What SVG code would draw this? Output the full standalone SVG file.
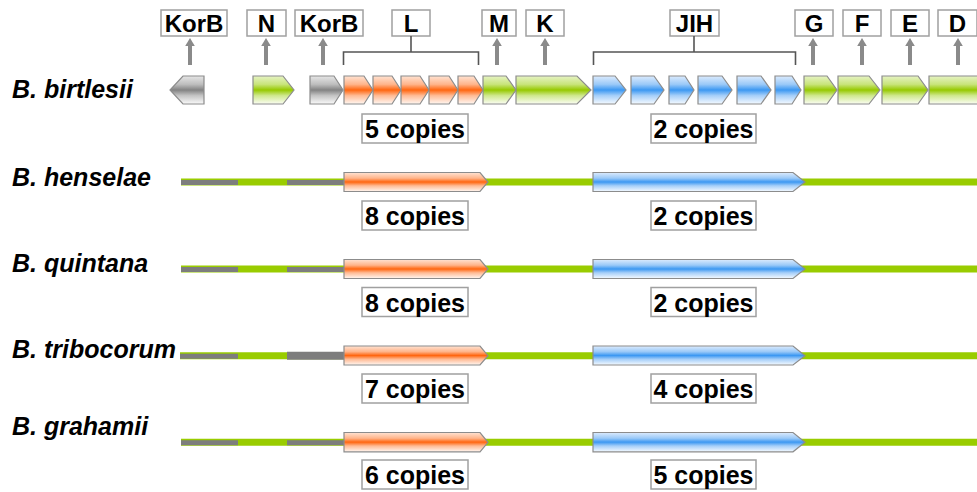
<svg xmlns="http://www.w3.org/2000/svg" xmlns:xlink="http://www.w3.org/1999/xlink" width="977" height="492" viewBox="0 0 977 492">
  <style>
    .sp { font-family: "Liberation Sans", Arial, sans-serif; font-size: 25px; font-weight: bold; font-style: italic; fill: #000; }
    .lbl { font-family: "Liberation Sans", Arial, sans-serif; font-size: 24px; font-weight: bold; fill: #000; text-anchor: middle; }
    .cp { font-family: "Liberation Sans", Arial, sans-serif; font-size: 25px; font-weight: bold; fill: #000; text-anchor: middle; }
    .box { fill: #fff; stroke: #a0a0a0; stroke-width: 1.5; }
    .gene { stroke: #8c8c8c; stroke-width: 1.2; stroke-linejoin: miter; }
    .green { fill: url(#gGreen); }
    .orange { fill: url(#gOrange); }
    .blue { fill: url(#gBlue); }
    .gray { fill: url(#gGray); }
    .chrom { stroke: #99cc00; stroke-width: 7; fill: none; }
    .seg { stroke: #7d7d7d; stroke-width: 5; fill: none; }
    .bracket { stroke: #555; stroke-width: 1.6; fill: none; }
    .shaft { stroke: #8a8a8a; stroke-width: 4; }
    .head { fill: #8a8a8a; }
  </style>
  <defs>
    <!-- vertical shading: pale top, saturated centre band, near-white bottom -->
    <linearGradient id="gGreen" x1="0" y1="0" x2="0" y2="1">
      <stop offset="0" stop-color="#e6f3c4"/>
      <stop offset="0.3" stop-color="#c8e47a"/>
      <stop offset="0.5" stop-color="#96c900"/>
      <stop offset="0.7" stop-color="#cfe88e"/>
      <stop offset="1" stop-color="#fbfdf4"/>
    </linearGradient>
    <linearGradient id="gOrange" x1="0" y1="0" x2="0" y2="1">
      <stop offset="0" stop-color="#ffe3d3"/>
      <stop offset="0.3" stop-color="#ffb48a"/>
      <stop offset="0.5" stop-color="#ff6610"/>
      <stop offset="0.7" stop-color="#ffbb95"/>
      <stop offset="1" stop-color="#fff7f2"/>
    </linearGradient>
    <linearGradient id="gBlue" x1="0" y1="0" x2="0" y2="1">
      <stop offset="0" stop-color="#dcebfd"/>
      <stop offset="0.3" stop-color="#9ac9f8"/>
      <stop offset="0.5" stop-color="#3c98f2"/>
      <stop offset="0.7" stop-color="#a6cff9"/>
      <stop offset="1" stop-color="#f5faff"/>
    </linearGradient>
    <linearGradient id="gGray" x1="0" y1="0" x2="0" y2="1">
      <stop offset="0" stop-color="#e6e6e6"/>
      <stop offset="0.3" stop-color="#bdbdbd"/>
      <stop offset="0.5" stop-color="#838383"/>
      <stop offset="0.7" stop-color="#c4c4c4"/>
      <stop offset="1" stop-color="#fafafa"/>
    </linearGradient>
    <g id="up">
      <line class="shaft" x1="0" y1="65" x2="0" y2="44"/>
      <path class="head" d="M0,38 L4.8,46 L-4.8,46 Z"/>
    </g>
  </defs>

  <rect width="977" height="492" fill="#fff"/>

  <!-- species names -->
  <g id="species">
    <text class="sp" x="12" y="98">B. birtlesii</text>
    <text class="sp" x="12" y="186">B. henselae</text>
    <text class="sp" x="12" y="272">B. quintana</text>
    <text class="sp" x="12" y="358">B. tribocorum</text>
    <text class="sp" x="12" y="435">B. grahamii</text>
  </g>

  <!-- gene name boxes -->
  <g id="label-KorB1"><rect class="box" x="161" y="10" width="66" height="26"/><text class="lbl" x="194" y="32">KorB</text></g>
  <g id="label-N"><rect class="box" x="247" y="10" width="39" height="26"/><text class="lbl" x="266.5" y="32">N</text></g>
  <g id="label-KorB2"><rect class="box" x="295" y="10" width="68" height="26"/><text class="lbl" x="329" y="32">KorB</text></g>
  <g id="label-L"><rect class="box" x="392" y="10" width="38" height="26"/><text class="lbl" x="411" y="32">L</text></g>
  <g id="label-M"><rect class="box" x="482" y="10" width="34" height="26"/><text class="lbl" x="499" y="32">M</text></g>
  <g id="label-K"><rect class="box" x="526" y="10" width="38" height="26"/><text class="lbl" x="545" y="32">K</text></g>
  <g id="label-JIH"><rect class="box" x="670" y="10" width="49" height="26"/><text class="lbl" x="694.5" y="32">JIH</text></g>
  <g id="label-G"><rect class="box" x="795" y="10" width="38" height="26"/><text class="lbl" x="814" y="32">G</text></g>
  <g id="label-F"><rect class="box" x="843" y="10" width="38" height="26"/><text class="lbl" x="862" y="32">F</text></g>
  <g id="label-E"><rect class="box" x="891" y="10" width="38" height="26"/><text class="lbl" x="910" y="32">E</text></g>
  <g id="label-D"><rect class="box" x="938" y="10" width="39" height="26"/><text class="lbl" x="957.5" y="32">D</text></g>

  <!-- connectors: pointer arrows and brackets -->
  <g id="connectors">
    <use xlink:href="#up" href="#up" x="190" y="0"/>
    <use xlink:href="#up" href="#up" x="266" y="0"/>
    <use xlink:href="#up" href="#up" x="323" y="0"/>
    <use xlink:href="#up" href="#up" x="497" y="0"/>
    <use xlink:href="#up" href="#up" x="545" y="0"/>
    <use xlink:href="#up" href="#up" x="813" y="0"/>
    <use xlink:href="#up" href="#up" x="862" y="0"/>
    <use xlink:href="#up" href="#up" x="910" y="0"/>
    <use xlink:href="#up" href="#up" x="958" y="0"/>
    <path class="bracket" d="M343.5,65 V52 H478.5 V65 M411,52 V36"/>
    <path class="bracket" d="M593.5,65 V52 H795.5 V65 M694,52 V36"/>
  </g>

  <!-- B. birtlesii gene cluster -->
  <g id="row-birtlesii">
    <path class="gene gray" d="M204,76 H183 L170,90 L183,104 H204 Z"/>
    <path class="gene green" d="M253,76 H283 L294,90 L283,104 H253 Z"/>
    <path class="gene gray" d="M310,76 H334 L343,90 L334,104 H310 Z"/>
    <path class="gene orange" d="M344,76 H364 L373,90 L364,104 H344 Z"/>
    <path class="gene orange" d="M373,76 H392 L401,90 L392,104 H373 Z"/>
    <path class="gene orange" d="M401,76 H420 L429,90 L420,104 H401 Z"/>
    <path class="gene orange" d="M429,76 H449 L458,90 L449,104 H429 Z"/>
    <path class="gene orange" d="M458,76 H474 L483,90 L474,104 H458 Z"/>
    <path class="gene green" d="M483,76 H506 L516,90 L506,104 H483 Z"/>
    <path class="gene green" d="M516,76 H577 L591,90 L577,104 H516 Z"/>
    <path class="gene blue" d="M593,76 H615 L626,90 L615,104 H593 Z"/>
    <path class="gene blue" d="M631,76 H654 L664,90 L654,104 H631 Z"/>
    <path class="gene blue" d="M669,76 H685 L694,90 L685,104 H669 Z"/>
    <path class="gene blue" d="M698,76 H722 L732,90 L722,104 H698 Z"/>
    <path class="gene blue" d="M737,76 H761 L771,90 L761,104 H737 Z"/>
    <path class="gene blue" d="M775,76 H792 L801,90 L792,104 H775 Z"/>
    <path class="gene green" d="M804,76 H827 L837,90 L827,104 H804 Z"/>
    <path class="gene green" d="M838,76 H869 L880,90 L869,104 H838 Z"/>
    <path class="gene green" d="M882,76 H918 L928,90 L918,104 H882 Z"/>
    <path class="gene green" d="M929,76 H985 L995,90 L985,104 H929 Z"/>
    <rect class="box" x="362" y="114" width="106" height="29"/><text class="cp" x="415" y="138">5 copies</text>
    <rect class="box" x="651" y="114" width="105" height="29"/><text class="cp" x="703.5" y="138">2 copies</text>
  </g>

  <!-- B. henselae -->
  <g id="row-henselae">
    <line class="chrom" x1="181" y1="182" x2="977" y2="182"/>
    <line class="seg" x1="181" y1="182.5" x2="238" y2="182.5"/>
    <line class="seg" x1="287" y1="182.5" x2="344" y2="182.5"/>
    <path class="gene orange" d="M344,172.5 H480 L488,182 L480,191.5 H344 Z"/>
    <path class="gene blue" d="M593,172.5 H793 L805,182 L793,191.5 H593 Z"/>
    <rect class="box" x="362" y="201" width="106" height="29"/><text class="cp" x="415" y="225">8 copies</text>
    <rect class="box" x="651" y="201" width="105" height="29"/><text class="cp" x="703.5" y="225">2 copies</text>
  </g>

  <!-- B. quintana -->
  <g id="row-quintana">
    <line class="chrom" x1="181" y1="269" x2="977" y2="269"/>
    <line class="seg" x1="181" y1="269.5" x2="238" y2="269.5"/>
    <line class="seg" x1="287" y1="269.5" x2="344" y2="269.5"/>
    <path class="gene orange" d="M344,259.5 H480 L488,269 L480,278.5 H344 Z"/>
    <path class="gene blue" d="M593,259.5 H793 L805,269 L793,278.5 H593 Z"/>
    <rect class="box" x="362" y="287.5" width="106" height="29"/><text class="cp" x="415" y="311.5">8 copies</text>
    <rect class="box" x="651" y="287.5" width="105" height="29"/><text class="cp" x="703.5" y="311.5">2 copies</text>
  </g>

  <!-- B. tribocorum -->
  <g id="row-tribocorum">
    <line class="chrom" x1="180" y1="355.7" x2="977" y2="355.7"/>
    <line class="seg" x1="180" y1="356.2" x2="238" y2="356.2"/>
    <line class="seg" x1="287" y1="355.7" x2="344" y2="355.7" style="stroke-width:8"/>
    <path class="gene orange" d="M344,346 H480 L488,355.7 L480,365 H344 Z"/>
    <path class="gene blue" d="M593,346 H793 L805,355.7 L793,365 H593 Z"/>
    <rect class="box" x="362" y="374" width="106" height="29"/><text class="cp" x="415" y="398">7 copies</text>
    <rect class="box" x="651" y="374" width="105" height="29"/><text class="cp" x="703.5" y="398">4 copies</text>
  </g>

  <!-- B. grahamii -->
  <g id="row-grahamii">
    <line class="chrom" x1="181" y1="442.3" x2="977" y2="442.3"/>
    <line class="seg" x1="181" y1="442.8" x2="238" y2="442.8"/>
    <line class="seg" x1="287" y1="442.8" x2="344" y2="442.8"/>
    <path class="gene orange" d="M344,432.5 H480 L488,442.3 L480,451.8 H344 Z"/>
    <path class="gene blue" d="M593,432.5 H793 L805,442.3 L793,451.8 H593 Z"/>
    <rect class="box" x="362" y="460" width="106" height="29"/><text class="cp" x="415" y="484">6 copies</text>
    <rect class="box" x="651" y="460" width="105" height="29"/><text class="cp" x="703.5" y="484">5 copies</text>
  </g>
</svg>
